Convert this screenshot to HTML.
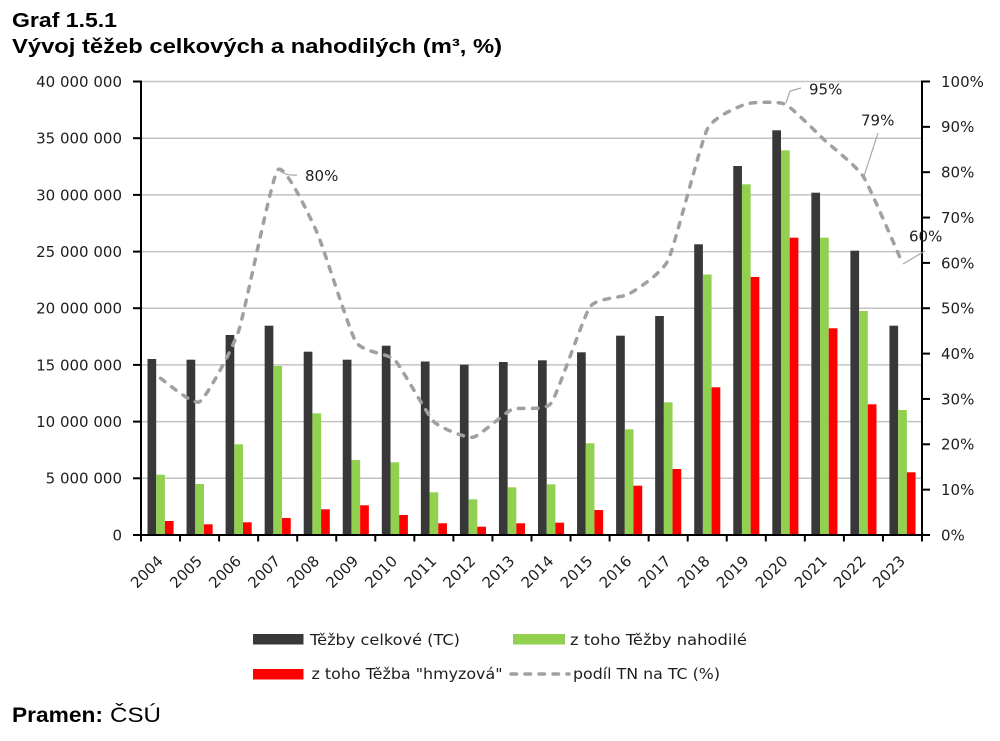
<!DOCTYPE html>
<html><head><meta charset="utf-8"><style>
html,body{margin:0;padding:0;background:#fff;}
svg{display:block;}
.t{font-family:"DejaVu Sans","Liberation Sans",sans-serif;font-size:15px;fill:#1e1e1e;}
</style></head><body>
<svg width="1000" height="741" viewBox="0 0 1000 741" xmlns="http://www.w3.org/2000/svg">
<rect width="1000" height="741" fill="#fff"/>
<!-- titles -->
<text x="12" y="27" font-family="Liberation Sans, Arial, sans-serif" font-weight="bold" font-size="20" fill="#000" textLength="105" lengthAdjust="spacingAndGlyphs">Graf 1.5.1</text>
<text x="12" y="53" font-family="Liberation Sans, Arial, sans-serif" font-weight="bold" font-size="20" fill="#000" textLength="490" lengthAdjust="spacingAndGlyphs">Vývoj těžeb celkových a nahodilých (m³, %)</text>

<!-- gridlines -->
<g stroke="#c3c3c3" stroke-width="1.5">
<line x1="141" y1="478.3" x2="922" y2="478.3"/>
<line x1="141" y1="421.6" x2="922" y2="421.6"/>
<line x1="141" y1="364.9" x2="922" y2="364.9"/>
<line x1="141" y1="308.2" x2="922" y2="308.2"/>
<line x1="141" y1="251.6" x2="922" y2="251.6"/>
<line x1="141" y1="194.9" x2="922" y2="194.9"/>
<line x1="141" y1="138.2" x2="922" y2="138.2"/>
<line x1="141" y1="81.5" x2="922" y2="81.5"/>
</g>

<!-- bars -->
<g fill="#383838">
<rect x="147.5" y="359" width="8.7" height="176"/>
<rect x="186.55" y="359.7" width="8.7" height="175.3"/>
<rect x="225.6" y="335" width="8.7" height="200"/>
<rect x="264.65" y="325.7" width="8.7" height="209.3"/>
<rect x="303.7" y="351.7" width="8.7" height="183.3"/>
<rect x="342.75" y="359.7" width="8.7" height="175.3"/>
<rect x="381.8" y="345.7" width="8.7" height="189.3"/>
<rect x="420.85" y="361.5" width="8.7" height="173.5"/>
<rect x="459.9" y="364.7" width="8.7" height="170.3"/>
<rect x="498.95" y="362" width="8.7" height="173"/>
<rect x="538" y="360.3" width="8.7" height="174.7"/>
<rect x="577.05" y="352.3" width="8.7" height="182.7"/>
<rect x="616.1" y="335.7" width="8.7" height="199.3"/>
<rect x="655.15" y="316" width="8.7" height="219"/>
<rect x="694.2" y="244.3" width="8.7" height="290.7"/>
<rect x="733.25" y="166" width="8.7" height="369"/>
<rect x="772.3" y="130.3" width="8.7" height="404.7"/>
<rect x="811.35" y="192.7" width="8.7" height="342.3"/>
<rect x="850.4" y="250.7" width="8.7" height="284.3"/>
<rect x="889.45" y="325.7" width="8.7" height="209.3"/>
</g>
<g fill="#92d050">
<rect x="156.2" y="474.7" width="8.7" height="60.3"/>
<rect x="195.25" y="484" width="8.7" height="51"/>
<rect x="234.3" y="444.3" width="8.7" height="90.7"/>
<rect x="273.35" y="366" width="8.7" height="169"/>
<rect x="312.4" y="413.3" width="8.7" height="121.7"/>
<rect x="351.45" y="460" width="8.7" height="75"/>
<rect x="390.5" y="462.3" width="8.7" height="72.7"/>
<rect x="429.55" y="492.3" width="8.7" height="42.7"/>
<rect x="468.6" y="499.3" width="8.7" height="35.7"/>
<rect x="507.65" y="487.3" width="8.7" height="47.7"/>
<rect x="546.7" y="484.3" width="8.7" height="50.7"/>
<rect x="585.75" y="443.3" width="8.7" height="91.7"/>
<rect x="624.8" y="429.3" width="8.7" height="105.7"/>
<rect x="663.85" y="402.3" width="8.7" height="132.7"/>
<rect x="702.9" y="274.5" width="8.7" height="260.5"/>
<rect x="741.95" y="184.3" width="8.7" height="350.7"/>
<rect x="781" y="150.3" width="8.7" height="384.7"/>
<rect x="820.05" y="237.7" width="8.7" height="297.3"/>
<rect x="859.1" y="311" width="8.7" height="224"/>
<rect x="898.15" y="410" width="8.7" height="125"/>
</g>
<g fill="#ff0000">
<rect x="164.9" y="521" width="8.7" height="14"/>
<rect x="203.95" y="524.3" width="8.7" height="10.7"/>
<rect x="243" y="522.3" width="8.7" height="12.7"/>
<rect x="282.05" y="518" width="8.7" height="17"/>
<rect x="321.1" y="509.3" width="8.7" height="25.7"/>
<rect x="360.15" y="505.3" width="8.7" height="29.7"/>
<rect x="399.2" y="515" width="8.7" height="20"/>
<rect x="438.25" y="523.3" width="8.7" height="11.7"/>
<rect x="477.3" y="526.7" width="8.7" height="8.3"/>
<rect x="516.35" y="523.3" width="8.7" height="11.7"/>
<rect x="555.4" y="522.7" width="8.7" height="12.3"/>
<rect x="594.45" y="510" width="8.7" height="25"/>
<rect x="633.5" y="485.7" width="8.7" height="49.3"/>
<rect x="672.55" y="469" width="8.7" height="66"/>
<rect x="711.6" y="387.3" width="8.7" height="147.7"/>
<rect x="750.65" y="277" width="8.7" height="258"/>
<rect x="789.7" y="237.7" width="8.7" height="297.3"/>
<rect x="828.75" y="328.3" width="8.7" height="206.7"/>
<rect x="867.8" y="404.3" width="8.7" height="130.7"/>
<rect x="906.85" y="472.3" width="8.7" height="62.7"/>
</g>

<!-- axes -->
<g stroke="#000" stroke-width="2" fill="none">
<line x1="141" y1="80.5" x2="141" y2="536"/>
<line x1="140" y1="535" x2="923" y2="535"/>
<line x1="922" y1="80.5" x2="922" y2="536"/>
</g>
<g stroke="#000" stroke-width="2">
<line x1="133" y1="535" x2="141" y2="535"/>
<line x1="133" y1="478.3" x2="141" y2="478.3"/>
<line x1="133" y1="421.6" x2="141" y2="421.6"/>
<line x1="133" y1="364.9" x2="141" y2="364.9"/>
<line x1="133" y1="308.2" x2="141" y2="308.2"/>
<line x1="133" y1="251.6" x2="141" y2="251.6"/>
<line x1="133" y1="194.9" x2="141" y2="194.9"/>
<line x1="133" y1="138.2" x2="141" y2="138.2"/>
<line x1="133" y1="81.5" x2="141" y2="81.5"/>
<line x1="922" y1="535" x2="930" y2="535"/>
<line x1="922" y1="489.65" x2="930" y2="489.65"/>
<line x1="922" y1="444.3" x2="930" y2="444.3"/>
<line x1="922" y1="398.95" x2="930" y2="398.95"/>
<line x1="922" y1="353.6" x2="930" y2="353.6"/>
<line x1="922" y1="308.25" x2="930" y2="308.25"/>
<line x1="922" y1="262.9" x2="930" y2="262.9"/>
<line x1="922" y1="217.55" x2="930" y2="217.55"/>
<line x1="922" y1="172.2" x2="930" y2="172.2"/>
<line x1="922" y1="126.85" x2="930" y2="126.85"/>
<line x1="922" y1="81.5" x2="930" y2="81.5"/>
<line x1="141" y1="535" x2="141" y2="541.5"/>
<line x1="180.05" y1="535" x2="180.05" y2="541.5"/>
<line x1="219.1" y1="535" x2="219.1" y2="541.5"/>
<line x1="258.15" y1="535" x2="258.15" y2="541.5"/>
<line x1="297.2" y1="535" x2="297.2" y2="541.5"/>
<line x1="336.25" y1="535" x2="336.25" y2="541.5"/>
<line x1="375.3" y1="535" x2="375.3" y2="541.5"/>
<line x1="414.35" y1="535" x2="414.35" y2="541.5"/>
<line x1="453.4" y1="535" x2="453.4" y2="541.5"/>
<line x1="492.45" y1="535" x2="492.45" y2="541.5"/>
<line x1="531.5" y1="535" x2="531.5" y2="541.5"/>
<line x1="570.55" y1="535" x2="570.55" y2="541.5"/>
<line x1="609.6" y1="535" x2="609.6" y2="541.5"/>
<line x1="648.65" y1="535" x2="648.65" y2="541.5"/>
<line x1="687.7" y1="535" x2="687.7" y2="541.5"/>
<line x1="726.75" y1="535" x2="726.75" y2="541.5"/>
<line x1="765.8" y1="535" x2="765.8" y2="541.5"/>
<line x1="804.85" y1="535" x2="804.85" y2="541.5"/>
<line x1="843.9" y1="535" x2="843.9" y2="541.5"/>
<line x1="882.95" y1="535" x2="882.95" y2="541.5"/>
<line x1="922" y1="535" x2="922" y2="541.5"/>
</g>

<!-- percent line -->
<path d="M160.5 378.3 C163.8 380.25 193.1 405.64 199.6 401.7 C206.1 397.76 232.1 350.31 238.6 331 C245.1 311.69 271.2 178.28 277.7 170 C284.2 161.72 310.2 217.39 316.7 231.7 C323.2 246.01 349.3 331.01 355.8 341.7 C362.3 352.39 388.3 353.33 394.8 360 C401.3 366.67 427.4 415.26 433.9 421.7 C440.4 428.14 466.4 438.33 472.9 437.3 C479.4 436.27 505.5 412.13 512.0 409.3 C518.5 406.47 544.5 411.85 551.0 403.3 C557.5 394.75 583.6 315.81 590.1 306.7 C596.6 297.59 622.6 297.89 629.1 294 C635.6 290.11 661.7 273.72 668.2 260 C674.7 246.28 700.7 142.3 707.2 129.3 C713.7 116.3 739.8 106.08 746.3 104 C752.8 101.92 778.8 101.3 785.3 104.3 C791.8 107.3 817.9 133.97 824.4 140 C830.9 146.03 856.9 166.43 863.4 176.7 C869.9 186.97 899.2 256.08 902.5 263.3" fill="none" stroke="#a0a0a0" stroke-width="3.5" stroke-dasharray="5.5 8.5" stroke-linecap="round"/>

<!-- data label leaders -->
<g stroke="#a6a6a6" stroke-width="1.2" fill="none">
<path d="M279 170 Q285 176 297 175"/>
<path d="M786 103 L790 91 L801 88"/>
<path d="M864 176 L878 133"/>
<path d="M903 264 L925 251"/>
</g>
<g class="t">
<text x="305" y="181">80%</text>
<text x="809" y="94.5">95%</text>
<text x="861" y="125.5">79%</text>
<text x="909" y="241.5">60%</text>
</g>

<!-- left axis labels -->
<g class="t" text-anchor="end">
<text x="122" y="540.4">0</text>
<text x="122" y="483.7">5 000 000</text>
<text x="122" y="427">10 000 000</text>
<text x="122" y="370.3">15 000 000</text>
<text x="122" y="313.6">20 000 000</text>
<text x="122" y="257">25 000 000</text>
<text x="122" y="200.3">30 000 000</text>
<text x="122" y="143.6">35 000 000</text>
<text x="122" y="86.9">40 000 000</text>
</g>
<!-- right axis labels -->
<g class="t">
<text x="941" y="540.4">0%</text>
<text x="941" y="495">10%</text>
<text x="941" y="449.7">20%</text>
<text x="941" y="404.3">30%</text>
<text x="941" y="359">40%</text>
<text x="941" y="313.6">50%</text>
<text x="941" y="268.3">60%</text>
<text x="941" y="222.9">70%</text>
<text x="941" y="177.6">80%</text>
<text x="941" y="132.2">90%</text>
<text x="941" y="86.9">100%</text>
</g>
<!-- year labels -->
<g class="t" text-anchor="end">
<text transform="translate(164,562) rotate(-45)">2004</text>
<text transform="translate(203.1,562) rotate(-45)">2005</text>
<text transform="translate(242.1,562) rotate(-45)">2006</text>
<text transform="translate(281.2,562) rotate(-45)">2007</text>
<text transform="translate(320.2,562) rotate(-45)">2008</text>
<text transform="translate(359.3,562) rotate(-45)">2009</text>
<text transform="translate(398.3,562) rotate(-45)">2010</text>
<text transform="translate(437.4,562) rotate(-45)">2011</text>
<text transform="translate(476.4,562) rotate(-45)">2012</text>
<text transform="translate(515.5,562) rotate(-45)">2013</text>
<text transform="translate(554.5,562) rotate(-45)">2014</text>
<text transform="translate(593.6,562) rotate(-45)">2015</text>
<text transform="translate(632.6,562) rotate(-45)">2016</text>
<text transform="translate(671.7,562) rotate(-45)">2017</text>
<text transform="translate(710.7,562) rotate(-45)">2018</text>
<text transform="translate(749.8,562) rotate(-45)">2019</text>
<text transform="translate(788.8,562) rotate(-45)">2020</text>
<text transform="translate(827.9,562) rotate(-45)">2021</text>
<text transform="translate(866.9,562) rotate(-45)">2022</text>
<text transform="translate(906,562) rotate(-45)">2023</text>
</g>

<!-- legend -->
<rect x="253" y="634" width="50.5" height="10.5" fill="#383838"/>
<text class="t" x="310" y="645" textLength="150" lengthAdjust="spacingAndGlyphs">Těžby celkové (TC)</text>
<rect x="513" y="634" width="52" height="10.5" fill="#92d050"/>
<text class="t" x="570" y="645" textLength="177" lengthAdjust="spacingAndGlyphs">z toho Těžby nahodilé</text>
<rect x="253" y="669" width="50.5" height="10.5" fill="#ff0000"/>
<text class="t" x="311.5" y="679" textLength="191" lengthAdjust="spacingAndGlyphs">z toho Těžba "hmyzová"</text>
<line x1="511" y1="674" x2="569" y2="674" stroke="#a0a0a0" stroke-width="3.5" stroke-dasharray="5.5 8.5" stroke-linecap="round"/>
<text class="t" x="573" y="679" textLength="147" lengthAdjust="spacingAndGlyphs">podíl TN na TC (%)</text>

<!-- source -->
<text x="12" y="722" font-family="Liberation Sans, Arial, sans-serif" font-weight="bold" font-size="21" fill="#000" textLength="91" lengthAdjust="spacingAndGlyphs">Pramen:</text>
<text x="110" y="722" font-family="Liberation Sans, Arial, sans-serif" font-size="21" fill="#000" textLength="51" lengthAdjust="spacingAndGlyphs">ČSÚ</text>
</svg>
</body></html>
